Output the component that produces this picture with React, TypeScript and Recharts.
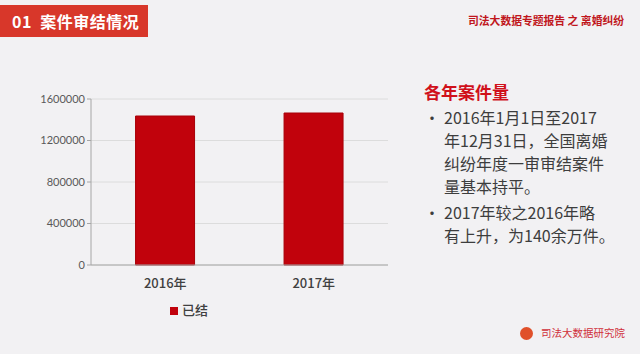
import React from "react";
import { BarChart, Bar, XAxis, YAxis, CartesianGrid, Legend } from "recharts";

const categories = ["2016年", "2017年"];
const closedCases = [1436000, 1465000];
const yTicks = [0, 400000, 800000, 1200000, 1600000];
const seriesName = "已结";

const data = categories.map((c, i) => ({ year: c, closed: closedCases[i] }));

const CJK = '"Noto Sans CJK SC", "Noto Sans", sans-serif';

const bullet1 = ["2016年1月1日至2017", "年12月31日，全国离婚", "纠纷年度一审审结案件", "量基本持平。"];
const bullet2 = ["2017年较之2016年略", "有上升，为140余万件。"];

export default function App() {
  const line = (t: string, i: number) => <div key={i} style={{ whiteSpace: "nowrap" }}>{t}</div>;
  return (
    <div style={{ position: "absolute", left: 0, top: 0, width: 640, height: 354, background: "#f2f1f3", overflow: "hidden", fontFamily: CJK }}>
      <div style={{ position: "absolute", left: 0, top: 5, width: 148, height: 32, background: "#d8372a", color: "#fff", fontWeight: 700, fontSize: 16, lineHeight: "32px", paddingLeft: 12, boxSizing: "border-box", letterSpacing: 0.5 }}>
        01&nbsp;&nbsp;案件审结情况
      </div>
      <div style={{ position: "absolute", left: 468, top: 12, color: "#c0161c", fontWeight: 700, fontSize: 10.8, whiteSpace: "nowrap" }}>
        司法大数据专题报告 之 离婚纠纷
      </div>
      <div style={{ position: "absolute", left: 0, top: 0 }}>
        <BarChart width={400} height={354} data={data} margin={{ top: 99, right: 12, left: 0, bottom: 35 }} barCategoryGap="30%">
          <CartesianGrid vertical={false} stroke="#dcdcdc" />
          <XAxis dataKey="year" height={35} tickLine={false} axisLine={{ stroke: "#a6a6a6" }} tick={{ fill: "#404040", fontSize: 13, fontFamily: CJK, fontWeight: 500 }} tickMargin={8} />
          <YAxis width={91} ticks={yTicks} domain={[0, 1600000]} axisLine={{ stroke: "#a6a6a6" }} tickLine={{ stroke: "#a6a6a6" }} tickSize={4} tick={{ fill: "#595959", fontSize: 11, fontFamily: "Lato, sans-serif" }} interval={0} />
          <Legend iconType="square" iconSize={8} wrapperStyle={{ fontSize: 13, fontFamily: CJK, color: "#404040" }} formatter={(v) => <span style={{ color: "#404040", fontWeight: 500 }}>{v}</span>} />
          <Bar dataKey="closed" name={seriesName} fill="#c1020c" stroke="#a80008" isAnimationActive={false} />
        </BarChart>
      </div>
      <div style={{ position: "absolute", left: 424, top: 79, color: "#d0101a", fontWeight: 700, fontSize: 17 }}>各年案件量</div>
      <div style={{ position: "absolute", left: 424, top: 106, color: "#3d3d3d", fontSize: 16, lineHeight: "23px" }}>
        <div style={{ display: "flex" }}>
          <span style={{ width: 20 }}>•</span>
          <div>{bullet1.map(line)}</div>
        </div>
        <div style={{ display: "flex", marginTop: 3 }}>
          <span style={{ width: 20 }}>•</span>
          <div>{bullet2.map(line)}</div>
        </div>
      </div>
      <div style={{ position: "absolute", left: 520, top: 327, width: 13, height: 13, borderRadius: 7, background: "#e0502a" }} />
      <div style={{ position: "absolute", left: 541, top: 325, color: "#d0303a", fontSize: 10.5 }}>司法大数据研究院</div>
    </div>
  );
}
